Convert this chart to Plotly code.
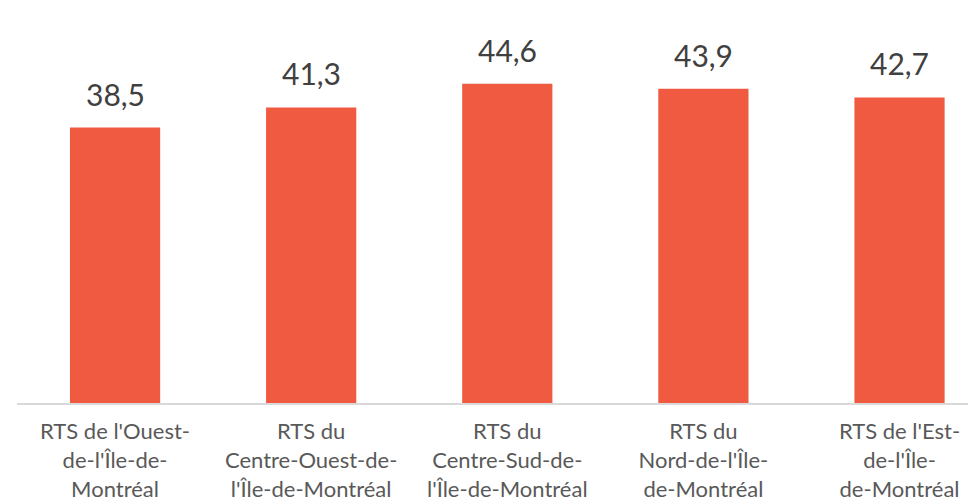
import plotly.graph_objects as go

categories = [
    "RTS de l'Ouest-<br>de-l'Île-de-<br>Montréal",
    "RTS du<br>Centre-Ouest-de-<br>l'Île-de-Montréal",
    "RTS du<br>Centre-Sud-de-<br>l'Île-de-Montréal",
    "RTS du<br>Nord-de-l'Île-<br>de-Montréal",
    "RTS de l'Est-<br>de-l'Île-<br>de-Montréal",
]
values = [38.5, 41.3, 44.6, 43.9, 42.7]
value_labels = ["38,5", "41,3", "44,6", "43,9", "42,7"]

BAR_COLOR = "#F05A40"

fig = go.Figure()
fig.add_trace(go.Bar(
    x=list(range(len(categories))),
    y=values,
    marker=dict(color=BAR_COLOR, line=dict(width=0)),
    width=0.46,
    hoverinfo="skip",
))

for i, (v, t) in enumerate(zip(values, value_labels)):
    fig.add_annotation(
        x=i, y=v, text=t, showarrow=False,
        yanchor="bottom", yshift=14,
        font=dict(family="Lato", size=30, color="#404040"),
    )

fig.update_layout(
    width=968, height=494,
    margin=dict(l=9, r=0, t=0, b=99),
    paper_bgcolor="white", plot_bgcolor="white",
    showlegend=False,
    xaxis=dict(
        tickmode="array",
        tickvals=list(range(len(categories))),
        ticktext=categories,
        range=[-0.5, 4.39],
        showgrid=False, zeroline=False,
        showline=True, linecolor="#D9D9D9", linewidth=2,
        ticks="",
        tickfont=dict(family="Lato", size=22, color="#595959"),
        ticklabelstandoff=8,
        automargin=False,
    ),
    yaxis=dict(
        range=[0, 55.2],
        showgrid=False, zeroline=False, showline=False,
        showticklabels=False, ticks="",
    ),
)

fig.write_html("out.html")
